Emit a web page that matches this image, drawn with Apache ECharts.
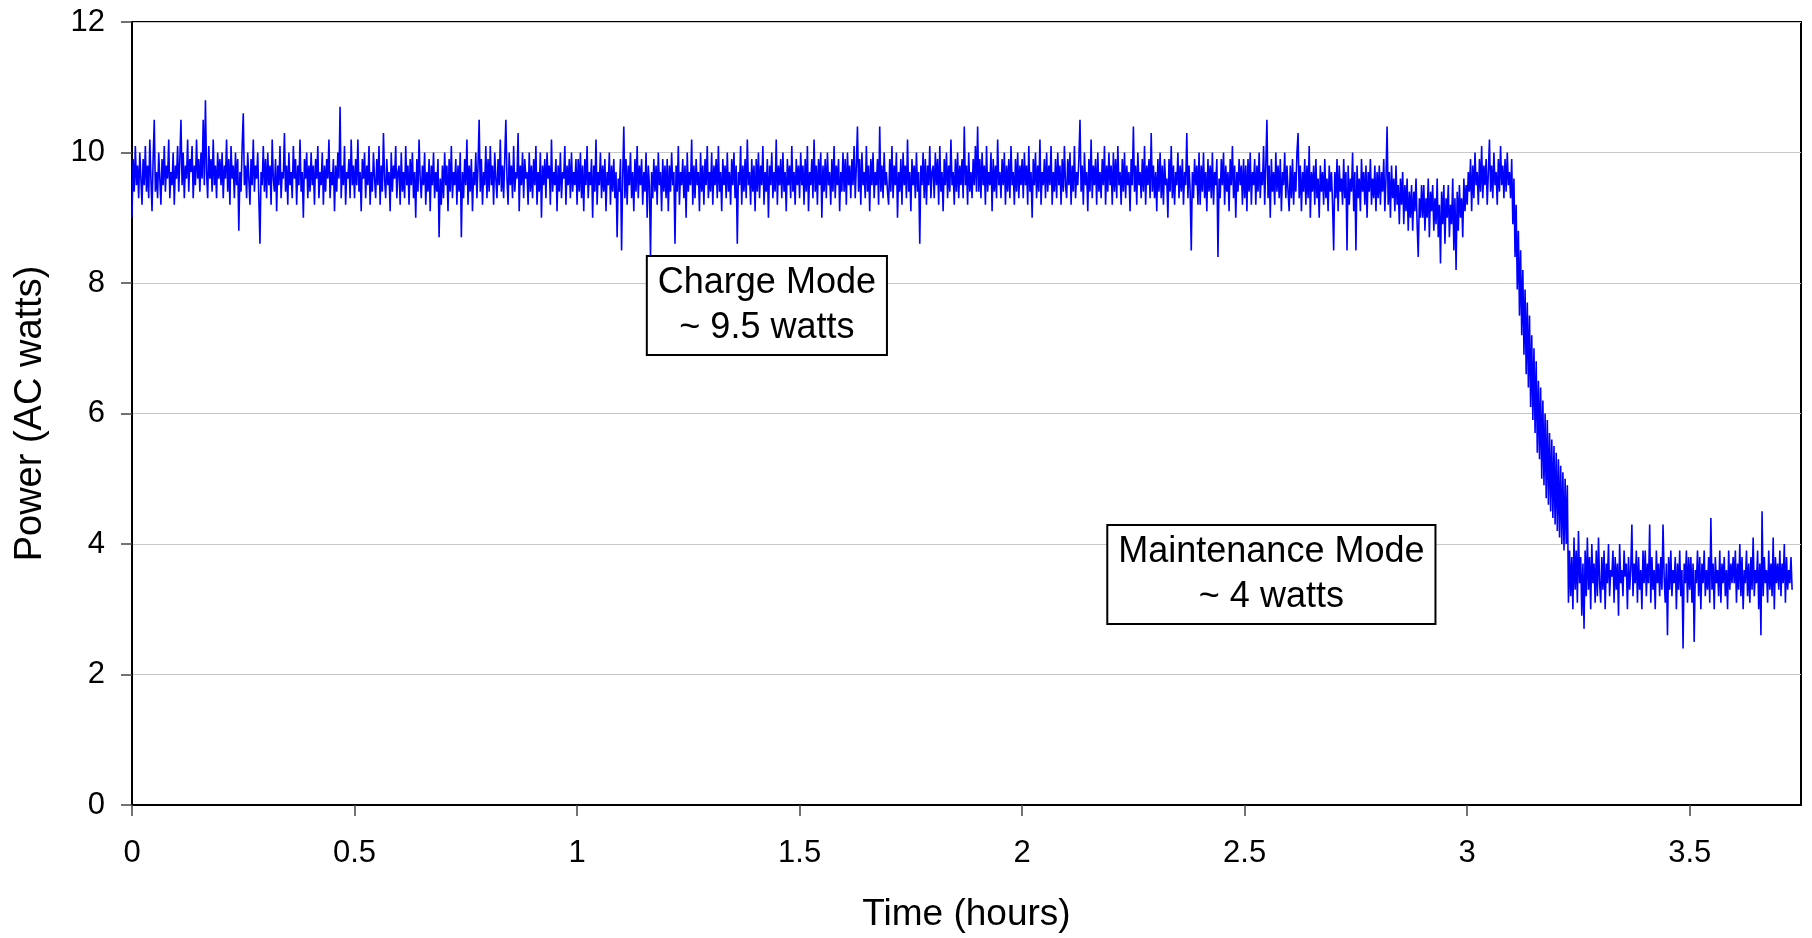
<!DOCTYPE html>
<html>
<head>
<meta charset="utf-8">
<script src="https://cdn.jsdelivr.net/npm/echarts@6/dist/echarts.min.js"></script>
<style>
html,body{margin:0;padding:0;background:#fff;}
#chart{width:1812px;height:938px;}
</style>
</head>
<body>
<div id="chart"></div>
<script>
// Sampling interval of the logger (hours between readings)
const sampleStepHours = 0.0025;

// Power readings (AC watts), one array per hour
const powerHour0 = [
  9.0,9.9,9.4,10.1,9.5,9.8,9.3,10.0,9.6,9.2, 9.9,9.5,10.1,9.4,9.8,9.3,10.2,9.6,9.1,9.9,
  10.5,9.4,9.7,9.3,10.0,9.6,9.2,9.9,9.5,10.1, 9.4,9.8,9.6,10.2,9.3,9.7,9.5,10.0,9.2,9.8,
  9.6,10.1,9.4,9.9,10.5,9.5,10.0,9.3,9.8,9.6, 10.2,9.4,9.9,9.7,10.1,9.3,9.8,9.5,10.2,9.6,
  9.9,9.4,10.0,9.6,10.5,9.5,10.8,9.7,9.3,10.1, 9.6,9.9,9.4,10.2,9.5,9.8,9.3,10.0,9.6,9.9,
  9.5,10.0,9.3,9.8,9.6,10.2,9.4,9.9,9.2,10.1, 9.6,9.8,9.3,10.0,9.5,9.9,8.8,9.7,9.4,10.1,
  10.6,9.5,9.8,9.3,10.0,9.6,9.2,9.9,9.5,10.2, 9.4,9.8,9.6,10.0,9.3,8.6,9.7,9.5,10.1,9.4,
  9.9,9.3,10.0,9.5,9.8,9.2,10.2,9.6,9.4,9.9, 9.1,9.8,9.5,10.1,9.3,9.7,9.6,10.3,9.4,9.8,
  9.2,10.0,9.5,9.7,9.3,10.1,9.6,9.9,9.2,9.8, 9.5,10.2,9.4,9.7,9.0,9.9,9.6,10.0,9.3,9.8,
  9.4,10.0,9.5,9.8,9.2,9.9,9.6,10.1,9.3,9.7, 9.5,10.0,9.2,9.8,9.4,9.9,9.6,10.2,9.3,9.7,
  9.5,9.9,9.1,9.8,9.4,10.0,9.6,10.7,9.3,9.8, 9.5,10.1,9.2,9.7,9.6,9.9,9.3,10.2,9.5,9.8,
  9.3,9.9,9.5,10.2,9.4,9.7,9.1,9.9,9.6,10.0, 9.3,9.8,9.5,10.1,9.2,9.7,9.4,10.0,9.6,9.3,
  9.9,9.5,10.1,9.2,9.8,9.4,10.3,9.6,9.3,9.9, 9.5,9.7,9.1,10.0,9.4,9.8,9.6,10.1,9.3,9.7,
  9.8,9.2,10.0,9.4,9.7,9.3,10.1,9.5,9.8,9.2, 9.9,9.5,10.0,9.3,9.7,9.0,9.9,9.4,10.2,9.6,
  9.3,9.8,9.5,10.0,9.2,9.7,9.4,9.9,9.1,9.8, 9.5,10.0,9.3,9.7,9.4,9.9,8.7,9.6,9.2,9.8,
  9.3,10.0,9.5,9.8,9.1,9.9,9.4,10.1,9.3,9.7, 9.5,9.9,9.2,9.8,9.4,10.0,8.7,9.7,9.3,9.9,
  9.5,10.2,9.2,9.8,9.4,9.9,9.1,9.7,9.5,10.0, 9.3,9.8,10.5,9.4,9.9,9.2,9.7,9.5,10.1,9.3,
  9.9,9.4,10.1,9.5,9.8,9.2,10.0,9.6,9.3,9.9, 9.5,10.2,9.4,9.8,9.3,9.9,10.5,9.6,9.2,10.0,
  9.5,9.8,9.3,10.1,9.4,9.7,9.6,10.3,9.1,9.8, 9.5,10.0,9.3,9.9,9.6,9.7,9.2,10.0,9.4,9.8,
  9.3,9.9,9.5,10.1,9.2,9.7,9.4,10.0,9.0,9.8, 9.5,9.9,9.3,10.0,9.6,9.8,9.2,10.2,9.4,9.7,
  9.5,9.9,9.1,9.8,9.4,10.0,9.3,9.7,9.6,10.1, 9.2,9.8,9.5,9.9,9.3,10.0,9.4,9.7,9.5,9.9
];
const powerHour1 = [
  9.2,9.9,9.4,10.0,9.3,9.8,9.1,9.9,9.5,10.1, 9.3,9.7,9.5,9.9,9.0,9.8,9.4,10.2,9.2,9.7,
  9.5,10.0,9.3,9.8,9.4,9.9,9.1,9.7,9.5,10.0, 9.2,9.8,9.4,9.9,9.3,9.7,8.7,9.6,9.4,9.9,
  8.5,9.6,10.4,9.3,9.9,9.2,9.8,9.5,10.0,9.3, 9.7,9.1,9.9,9.4,10.1,9.3,9.8,9.5,9.9,9.2,
  9.7,9.4,10.0,9.0,9.8,9.5,8.4,9.7,9.3,9.9, 9.4,9.8,9.2,10.0,9.5,9.7,9.1,9.9,9.4,9.8,
  9.3,9.9,9.1,9.8,9.4,10.0,9.5,9.7,8.6,9.8, 9.4,10.1,9.2,9.7,9.5,9.9,9.3,9.8,9.0,10.0,
  9.4,9.7,9.5,10.2,9.2,9.8,9.3,9.9,9.5,9.7, 9.1,10.0,9.4,9.8,9.2,9.9,9.5,10.1,9.3,9.7,
  9.4,10.0,9.2,9.8,9.5,9.9,9.3,10.1,9.4,9.7, 9.1,9.9,9.5,9.8,9.3,10.0,9.4,9.7,9.2,9.9,
  9.5,10.0,9.3,9.8,8.6,9.7,9.5,10.1,9.2,9.8, 9.4,9.9,9.3,10.2,9.5,9.7,9.2,9.9,9.4,9.8,
  9.1,9.9,9.4,10.0,9.3,9.8,9.5,10.1,9.2,9.7, 9.4,9.9,9.0,9.8,9.5,10.0,9.3,9.7,9.4,10.2,
  9.2,9.8,9.5,9.9,9.3,10.0,9.4,9.7,9.1,9.9, 9.5,9.8,9.3,10.1,9.4,9.7,9.2,9.9,9.5,9.8,
  9.3,10.0,9.5,9.8,9.2,9.9,9.4,10.1,9.1,9.7, 9.5,9.9,9.3,10.2,9.4,9.8,9.2,9.9,9.5,10.0,
  9.0,9.8,9.4,9.9,9.3,10.0,9.5,9.7,9.2,9.9, 9.4,10.1,9.3,9.8,9.5,9.9,9.1,9.7,9.4,10.0,
  9.4,9.9,9.2,10.0,9.5,9.8,9.3,9.9,9.5,10.1, 9.3,9.8,10.4,9.4,9.9,9.2,10.0,9.5,9.7,9.3,
  10.1,9.4,9.8,9.1,9.9,9.5,10.0,9.3,9.7,9.5, 9.9,9.2,10.4,9.4,9.8,9.3,10.0,9.5,9.7,9.4,
  9.2,9.9,9.4,10.1,9.3,9.8,9.5,10.0,9.0,9.7, 9.4,9.9,9.2,10.0,9.5,9.8,9.3,10.2,9.4,9.7,
  9.1,9.9,9.5,9.8,9.3,10.0,9.4,9.7,8.6,9.8, 9.5,10.0,9.3,9.9,9.2,9.8,9.5,10.1,9.3,9.7,
  9.8,9.3,10.0,9.5,9.9,9.2,10.1,9.4,9.7,9.1, 9.9,9.5,10.0,9.3,9.8,9.4,10.2,9.5,9.7,9.2,
  9.9,9.4,10.0,9.3,9.8,9.5,9.9,9.3,10.4,9.5, 9.8,9.2,10.0,9.4,9.7,9.3,9.9,9.5,10.1,9.4,
  10.4,9.4,9.9,9.3,10.0,9.5,9.8,9.2,10.1,9.4, 9.7,9.5,10.0,9.1,9.9,9.4,9.8,9.3,10.2,9.5,
  9.7,9.3,9.9,9.5,10.0,9.2,9.8,9.4,9.9,9.3, 10.1,9.5,9.7,9.2,9.9,9.4,10.0,9.3,9.8,9.5
];
const powerHour2 = [
  9.9,9.3,10.0,9.5,9.8,9.2,10.1,9.4,9.7,9.0, 9.9,9.5,10.0,9.3,9.8,9.4,10.2,9.2,9.7,9.5,
  9.9,9.3,10.0,9.4,9.8,9.5,10.1,9.2,9.7,9.4, 9.9,9.3,10.0,9.5,9.8,9.2,9.9,9.4,10.1,9.5,
  9.3,9.9,9.5,10.0,9.2,9.8,9.4,10.1,9.3,9.7, 9.5,9.9,10.5,9.4,9.8,9.2,10.0,9.5,9.7,9.1,
  9.9,9.4,10.2,9.3,9.8,9.5,9.9,9.2,10.0,9.4, 9.7,9.3,9.9,9.5,10.1,9.2,9.8,9.4,10.0,9.5,
  9.8,9.2,10.0,9.4,9.9,9.3,10.1,9.5,9.7,9.2, 9.9,9.4,10.0,9.3,9.8,9.5,9.7,9.1,9.9,9.5,
  10.4,9.4,9.8,9.2,10.0,9.5,9.7,9.3,9.9,9.4, 10.1,9.2,9.8,9.5,9.9,9.3,10.3,9.4,9.8,9.3,
  9.7,9.1,9.9,9.4,10.0,9.3,9.8,9.2,9.9,9.5, 9.6,9.0,9.9,9.4,10.1,9.3,9.8,9.2,9.7,9.5,
  10.0,9.3,9.8,9.4,9.9,9.2,9.7,9.5,10.3,9.3, 9.8,9.4,8.5,9.7,9.3,9.9,9.5,9.8,9.2,10.0,
  9.2,9.8,9.4,10.0,9.3,9.7,9.1,9.9,9.4,9.8, 9.3,10.0,9.2,9.7,9.5,9.9,8.4,9.6,9.3,9.9,
  9.5,10.0,9.2,9.8,9.4,9.7,9.1,9.9,9.5,10.1, 9.3,9.8,9.0,9.7,9.4,9.9,9.5,9.8,9.2,9.9,
  9.3,9.8,9.1,9.9,9.4,10.0,9.2,9.7,9.5,9.9, 9.2,9.8,9.4,10.0,9.3,9.7,9.5,10.1,9.2,9.8,
  10.5,9.3,9.8,9.0,9.9,9.4,9.7,9.2,10.0,9.4, 9.8,9.3,9.9,9.1,9.7,9.5,10.0,9.3,9.8,9.4,
  9.1,9.8,9.3,9.9,9.2,9.7,9.4,10.0,10.3,9.3, 9.8,9.1,9.7,9.4,9.9,9.2,9.8,9.3,10.1,9.0,
  9.7,9.4,9.8,9.2,9.9,9.3,9.6,9.0,9.8,9.4, 9.7,9.2,9.9,9.3,9.6,9.1,9.8,9.4,9.7,9.2,
  8.5,9.7,9.3,9.9,9.1,9.8,9.4,9.6,9.2,9.9, 9.3,9.7,8.5,9.8,9.2,9.6,9.4,10.0,9.1,9.7,
  8.5,9.8,9.3,9.6,9.1,9.9,9.4,9.7,9.2,9.8, 9.0,9.7,9.4,9.9,9.2,9.6,9.3,9.8,9.1,9.7,
  9.3,9.8,9.2,9.7,9.4,9.9,9.1,9.6,10.4,9.2, 9.7,9.0,9.8,9.3,9.6,9.1,9.8,9.2,9.5,8.9,
  9.6,9.2,9.7,8.9,9.5,9.1,9.6,8.8,9.4,9.0, 9.5,8.8,9.4,9.1,9.6,8.9,8.4,9.3,9.0,9.5,
  9.0,9.5,8.8,9.3,9.0,9.6,8.7,9.4,9.1,9.5, 8.8,9.3,8.9,9.6,8.7,9.2,8.3,9.4,8.9,9.5,
  8.6,9.3,9.0,9.5,8.7,9.2,8.9,9.6,8.5,9.3, 8.2,9.4,8.8,9.5,9.0,9.3,8.7,9.6,9.1,9.5
];
const powerHour3 = [
  9.2,9.7,9.4,9.9,9.1,9.8,9.3,10.0,9.5,9.7, 9.2,9.9,9.4,10.1,9.3,9.8,9.5,9.9,9.2,9.7,
  10.2,9.4,9.8,9.3,10.0,9.5,9.7,9.2,9.9,9.4, 10.1,9.5,9.8,9.3,9.9,9.4,10.0,9.5,9.7,9.3,
  9.9,8.9,9.6,8.4,9.2,7.9,8.8,7.5,8.5,7.2, 8.2,6.9,7.9,6.6,7.7,6.4,7.5,6.1,7.2,5.9,
  7.0,5.7,6.8,5.4,6.5,5.3,6.4,5.0,6.2,4.9, 6.0,4.7,5.9,4.6,5.7,4.5,5.6,4.4,5.5,4.3,
  5.4,4.2,5.3,4.1,5.2,4.0,5.1,3.9,5.0,4.0, 4.9,3.1,3.9,3.2,3.8,3.0,4.1,3.3,3.9,3.1,
  4.2,3.4,3.8,2.9,3.7,2.7,3.9,3.2,4.1,3.3, 3.8,3.0,4.0,3.4,3.7,3.1,3.9,3.2,4.1,3.4,
  3.1,3.8,3.3,3.9,3.0,3.7,3.4,4.0,3.2,3.6, 3.5,3.9,3.1,3.8,3.3,3.7,2.9,4.0,3.4,3.6,
  3.2,3.9,3.5,3.7,3.0,3.8,3.3,3.6,4.3,3.2, 3.7,3.4,3.9,3.1,3.8,3.3,3.6,3.0,3.9,3.4,
  3.9,3.2,3.7,3.4,4.3,3.1,3.8,3.3,3.6,3.0, 3.9,3.4,3.7,3.2,3.8,3.3,4.3,3.5,3.1,3.7,
  2.6,3.8,3.3,3.9,3.2,3.6,3.4,3.8,3.0,3.7, 3.3,3.9,3.2,3.6,2.4,3.7,3.4,3.9,3.1,3.8,
  3.3,3.8,3.1,3.7,2.5,3.6,3.4,3.9,3.2,3.8, 3.0,3.7,3.4,3.9,3.2,3.6,3.3,3.8,3.1,4.4,
  3.3,3.7,3.0,3.8,3.4,3.6,3.2,3.9,3.1,3.7, 3.4,3.8,3.2,3.6,3.0,3.9,3.3,3.7,3.4,3.8,
  3.4,3.9,3.1,3.7,3.3,4.0,3.2,3.8,3.0,3.6, 3.4,3.9,3.2,3.7,3.1,3.8,3.3,4.1,3.2,3.6,
  3.4,3.9,3.0,3.7,2.6,4.5,3.2,3.8,3.4,3.6, 3.1,3.9,3.3,3.7,3.2,4.1,3.0,3.8,3.4,3.7,
  3.3,3.9,3.2,3.7,3.4,4.0,3.1,3.8,3.3,3.6, 3.4,3.8,3.3
];

// Axis ticks
const xTicks = [0, 0.5, 1, 1.5, 2, 2.5, 3, 3.5];
const xMax = 3.75;
const yTicks = [0, 2, 4, 6, 8, 10, 12];

// Annotations: [time (h), power (W), text]
const annotations = [
  [1.4265, 7.656, 'Charge Mode\n~ 9.5 watts'],
  [2.560, 3.534, 'Maintenance Mode\n~ 4 watts']
];

const power = [].concat(powerHour0, powerHour1, powerHour2, powerHour3);
const seriesData = power.map((v, i) => [Math.round(i * sampleStepHours * 10000) / 10000, v]);

const FONT = '"Liberation Sans", Arial, sans-serif';
const chart = echarts.init(document.getElementById('chart'), null, {renderer: 'canvas'});
chart.setOption({
  animation: false,
  backgroundColor: '#fff',
  grid: {
    left: 132, right: 11, top: 22, bottom: 130,
    show: true, borderColor: '#000', borderWidth: 2, backgroundColor: 'transparent'
  },
  xAxis: {
    type: 'value',
    min: 0, max: xMax, interval: 0.5,
    name: 'Time (hours)', nameLocation: 'middle', nameGap: 91,
    nameTextStyle: {fontFamily: FONT, fontSize: 37, color: '#000'},
    axisLine: {show: true, lineStyle: {color: '#000', width: 2}},
    axisTick: {show: true, length: 11, lineStyle: {color: '#444', width: 1.5}, customValues: xTicks},
    axisLabel: {fontFamily: FONT, fontSize: 31, color: '#000', margin: 33, customValues: xTicks},
    splitLine: {show: false}
  },
  yAxis: {
    type: 'value',
    min: 0, max: 12, interval: 2,
    name: 'Power (AC watts)', nameLocation: 'middle', nameGap: 82,
    nameTextStyle: {fontFamily: FONT, fontSize: 38, color: '#000'},
    axisLine: {show: true, lineStyle: {color: '#000', width: 2}},
    axisTick: {show: true, length: 11, lineStyle: {color: '#444', width: 1.5}, customValues: yTicks},
    axisLabel: {fontFamily: FONT, fontSize: 31, color: '#000', margin: 27, customValues: yTicks},
    splitLine: {show: true, lineStyle: {color: '#c8c8c8', width: 1.2}}
  },
  series: [{
    type: 'line',
    data: seriesData,
    showSymbol: false,
    symbol: 'none',
    lineStyle: {color: '#0000ff', width: 1.6},
    itemStyle: {color: '#0000ff'},
    z: 2,
    markPoint: {
      symbol: 'rect',
      symbolSize: 1,
      itemStyle: {color: 'rgba(0,0,0,0)'},
      z: 5,
      label: {
        show: true,
        position: 'inside',
        fontFamily: FONT,
        fontSize: 36,
        lineHeight: 45,
        color: '#000',
        align: 'center',
        backgroundColor: '#fff',
        borderColor: '#000',
        borderWidth: 2,
        padding: [4, 10, 3, 10],
        formatter: p => p.data.text
      },
      data: annotations.map(a => ({coord: [a[0], a[1]], text: a[2]}))
    }
  }]
});
</script>
</body>
</html>
